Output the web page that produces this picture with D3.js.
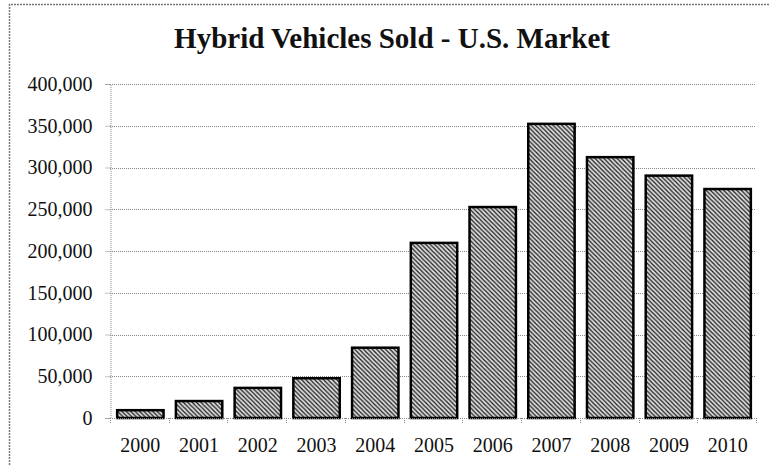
<!DOCTYPE html>
<html>
<head>
<meta charset="utf-8">
<script src="https://cdnjs.cloudflare.com/ajax/libs/d3/7.8.5/d3.min.js"></script>
<style>
html,body{margin:0;padding:0;background:#fff;}
svg{display:block;}
</style>
</head>
<body>
<svg id="chart" width="769" height="465"></svg>
<script>
const title = "Hybrid Vehicles Sold - U.S. Market";
const years = ["2000","2001","2002","2003","2004","2005","2006","2007","2008","2009","2010"];
const sales = [9350, 20282, 36035, 47600, 84199, 209711, 252636, 352274, 312386, 290271, 274210];
const yTicks = [0, 50000, 100000, 150000, 200000, 250000, 300000, 350000, 400000];

const W = 769, H = 465;
const plot = {left: 110, right: 756, top: 84, bottom: 418};
const svg = d3.select("#chart");
const font = "'Liberation Serif', 'Times New Roman', serif";

// hatch pattern
const defs = svg.append("defs");
const pat = defs.append("pattern")
  .attr("id","hatch").attr("patternUnits","userSpaceOnUse")
  .attr("width",4.4).attr("height",4.4);
pat.append("rect").attr("width",4.4).attr("height",4.4).attr("fill","#dcdcdc");
pat.append("path")
  .attr("d","M-1,-1 L5.4,5.4 M-1,3.4 L1,5.4 M3.4,-1 L5.4,1")
  .attr("stroke","#1a1a1a").attr("stroke-width",1.2);

// outer border (top & left visible)
svg.append("path")
  .attr("d",`M9.5,${H} L9.5,4.5 L${W},4.5`)
  .attr("fill","none").attr("stroke","#777").attr("stroke-width",1.5)
  .attr("stroke-dasharray","2,1");

const x = d3.scaleBand().domain(years).range([plot.left, plot.right]).paddingInner(0.21).paddingOuter(0.105);
const y = d3.scaleLinear().domain([0, 400000]).range([plot.bottom, plot.top]);

// gridlines
svg.append("g").selectAll("line").data(yTicks.filter(d=>d>0)).join("line")
  .attr("x1",plot.left).attr("x2",plot.right)
  .attr("y1",d=>Math.round(y(d))+0.5).attr("y2",d=>Math.round(y(d))+0.5)
  .attr("stroke","#888").attr("stroke-width",1).attr("stroke-dasharray","1,1");

// y axis
const yAxis = svg.append("g").attr("transform",`translate(${plot.left+0.5},0)`)
  .call(d3.axisLeft(y).tickValues(yTicks).tickFormat(d3.format(",")).tickSize(5).tickPadding(13));
yAxis.select(".domain").attr("stroke","#888").attr("stroke-dasharray","1,1");
yAxis.selectAll(".tick line").attr("stroke","#888").attr("stroke-dasharray","1,1");
yAxis.selectAll("text").attr("font-family",font).attr("font-size",20).attr("fill","#111");

// bars
svg.append("g").attr("transform","translate(1,0)").selectAll("rect").data(sales).join("rect")
  .attr("x",(d,i)=>x(years[i]))
  .attr("width",x.bandwidth())
  .attr("y",d=>y(d))
  .attr("height",d=>plot.bottom - y(d))
  .attr("fill","url(#hatch)")
  .attr("stroke","#000").attr("stroke-width",2.5);

// x axis
const bounds = d3.range(years.length+1).map(i=>plot.left + i*(plot.right-plot.left)/years.length);
svg.append("line").attr("x1",plot.left).attr("x2",plot.right)
  .attr("y1",plot.bottom+0.5).attr("y2",plot.bottom+0.5)
  .attr("stroke","#888").attr("stroke-dasharray","1,1");
svg.append("g").selectAll("line").data(bounds).join("line")
  .attr("x1",d=>Math.round(d)+0.5).attr("x2",d=>Math.round(d)+0.5)
  .attr("y1",plot.bottom).attr("y2",plot.bottom+5)
  .attr("stroke","#888").attr("stroke-dasharray","1,1");
svg.append("g").selectAll("text").data(years).join("text")
  .attr("x",d=>x(d)+x.bandwidth()/2+1)
  .attr("y",452)
  .attr("text-anchor","middle")
  .attr("font-family",font).attr("font-size",20).attr("fill","#111")
  .text(d=>d);

// title
svg.append("text").attr("x",392).attr("y",48)
  .attr("text-anchor","middle")
  .attr("font-family",font).attr("font-weight","bold").attr("font-size",29)
  .attr("fill","#111")
  .text(title);
</script>
</body>
</html>
